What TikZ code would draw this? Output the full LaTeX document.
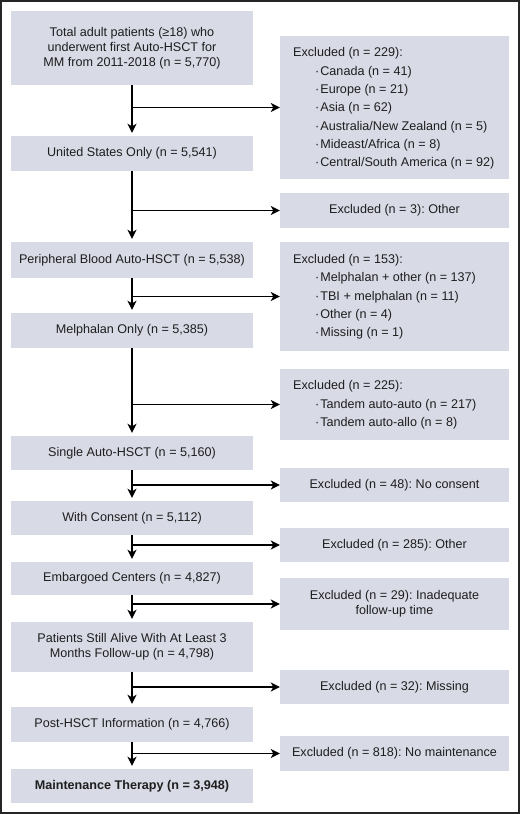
\documentclass[tikz,border=0pt]{standalone}
\usepackage{fontspec}
\setmainfont{Liberation Sans}
\usetikzlibrary{arrows.meta}
\definecolor{boxfill}{RGB}{216,218,230}
\definecolor{txt}{RGB}{30,30,30}
\newcommand\itm{\\\hspace*{22pt}·\hspace{1pt}}
\frenchspacing
\begin{document}
\begin{tikzpicture}[x=1pt,y=-1pt,
  every node/.style={text=txt},
  lbox/.style={fill=boxfill,draw=none,minimum width=242pt,inner sep=0pt,align=center,
    font=\fontsize{12.6}{15}\selectfont},
  rbox/.style={fill=boxfill,draw=none,minimum width=229pt,inner sep=0pt,align=center,
    font=\fontsize{12.6}{15}\selectfont},
  rlisttext/.style={anchor=west,inner sep=0pt,align=left,
    font=\fontsize{12.6}{18.3}\selectfont},
  arr/.style={line width=1.5pt,-{Stealth[length=9pt,width=9pt,inset=2.5pt]}},
  frame/.style={draw=black!85,line width=1.5pt}
]
\useasboundingbox (0,0) rectangle (520,814);
\draw[frame] (1,1) rectangle (519,813);

% left column
\node[lbox,minimum height=74pt] (L1) at (132,48) {Total adult patients (≥18) who\\underwent first Auto-HSCT for\\MM from 2011-2018 (n = 5,770)};
\node[lbox,minimum height=35pt] (L2) at (132,153.5) {United States Only (n = 5,541)};
\node[lbox,minimum height=36pt] (L3) at (132,260) {Peripheral Blood Auto-HSCT (n = 5,538)};
\node[lbox,minimum height=35pt] (L4) at (132,330.5) {Melphalan Only (n = 5,385)};
\node[lbox,minimum height=34pt] (L5) at (132,453) {Single Auto-HSCT (n = 5,160)};
\node[lbox,minimum height=34pt] (L6) at (132,518) {With Consent (n = 5,112)};
\node[lbox,minimum height=33pt] (L7) at (132,578.5) {Embargoed Centers (n = 4,827)};
\node[lbox,minimum height=50pt] (L8) at (132,647) {Patients Still Alive With At Least 3\\Months Follow-up (n = 4,798)};
\node[lbox,minimum height=35pt] (L9) at (132,724.5) {Post-HSCT Information (n = 4,766)};
\node[lbox,minimum height=34pt,font=\fontsize{12.6}{15}\selectfont\bfseries] (L10) at (132,786) {Maintenance Therapy (n = 3,948)};

% right column
\node[rbox,minimum height=143pt] (R1) at (394.5,107.5) {};
\node[rlisttext] (R1t) at (293,108.5) {Excluded (n = 229):\itm Canada (n = 41)\itm Europe (n = 21)\itm Asia (n = 62)\itm Australia/New Zealand (n = 5)\itm Mideast/Africa (n = 8)\itm Central/South America (n = 92)};
\node[rbox,minimum height=35pt] (R2) at (394.5,210.5) {Excluded (n = 3): Other};
\node[rbox,minimum height=109pt] (R3) at (394.5,296.5) {};
\node[rlisttext] (R3t) at (293,297) {Excluded (n = 153):\itm Melphalan + other (n = 137)\itm TBI + melphalan (n = 11)\itm Other (n = 4)\itm Missing (n = 1)};
\node[rbox,minimum height=71pt] (R4) at (394.5,404.5) {};
\node[rlisttext] (R4t) at (293,405) {Excluded (n = 225):\itm Tandem auto-auto (n = 217)\itm Tandem auto-allo (n = 8)};
\node[rbox,minimum height=34pt] (R5) at (394.5,485) {Excluded (n = 48): No consent};
\node[rbox,minimum height=34pt] (R6) at (394.5,545) {Excluded (n = 285): Other};
\node[rbox,minimum height=52pt] (R7) at (394.5,604) {Excluded (n = 29): Inadequate\\follow-up time};
\node[rbox,minimum height=34pt] (R8) at (394.5,687) {Excluded (n = 32): Missing};
\node[rbox,minimum height=35pt] (R9) at (394.5,753.5) {Excluded (n = 818): No maintenance};

% vertical arrows
\foreach \a/\b in {L1/L2,L2/L3,L3/L4,L4/L5,L5/L6,L6/L7,L7/L8,L8/L9,L9/L10}
  \draw[arr,shorten >=3pt] (\a.south) -- (\b.north);
% horizontal arrows
\foreach \a/\r in {L1/R1,L2/R2,L3/R3,L4/R4,L5/R5,L6/R6,L7/R7,L8/R8,L9/R9}
  \draw[arr] (\a.south |- \r.west) -- (\r.west);
\end{tikzpicture}
\end{document}
